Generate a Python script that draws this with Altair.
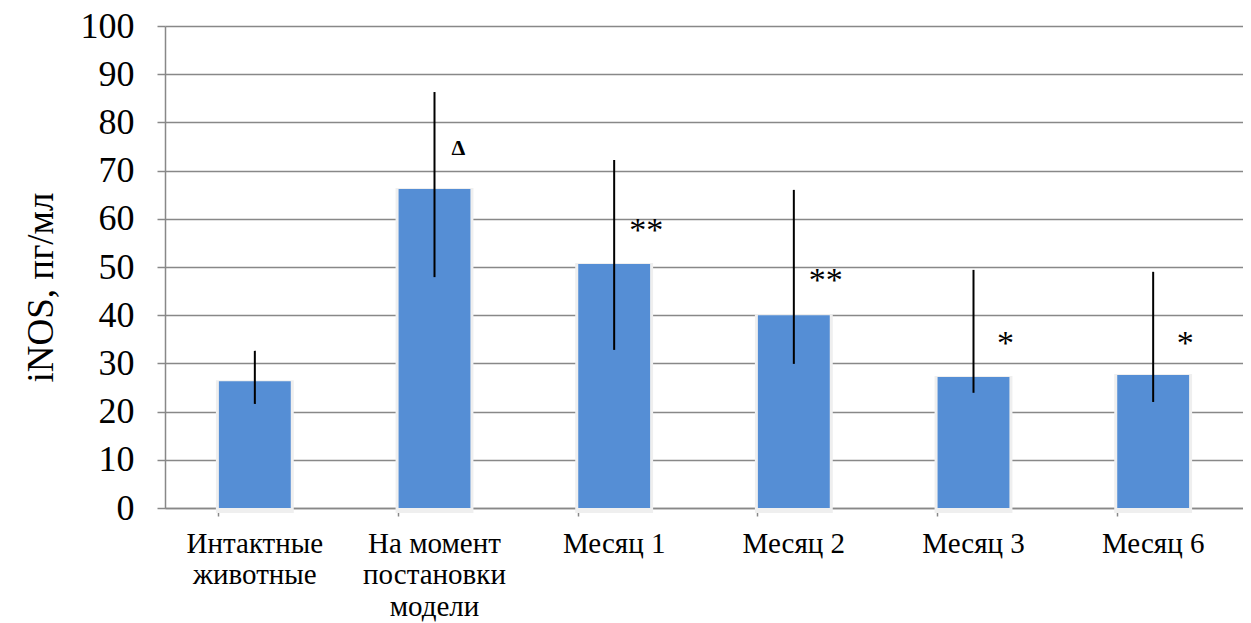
import altair as alt
import pandas as pd

categories = ["Интактные\nживотные", "На момент\nпостановки\nмодели", "Месяц 1", "Месяц 2", "Месяц 3", "Месяц 6"]
means = [26.3, 66.2, 50.6, 40.0, 27.2, 27.6]
err_low = [21.6, 47.9, 32.8, 29.9, 23.9, 22.0]
err_high = [32.6, 86.3, 72.2, 66.0, 49.4, 49.0]
marks = ["", "Δ", "**", "**", "*", "*"]
mark_y = [None, 74.7, 58.7, 48.3, 35.3, 35.3]

df = pd.DataFrame({
    "cat": categories, "mean": means, "lo": err_low, "hi": err_high,
    "mark": marks, "my": mark_y,
})

FONT = "Liberation Serif"

x = alt.X("cat:N", sort=categories, title=None,
          scale=alt.Scale(paddingInner=0.6, paddingOuter=0.3),
          axis=alt.Axis(labelExpr="split(datum.value, '\\n')", labelAngle=0,
                        labelFont=FONT, labelFontSize=29, labelColor="black",
                        labelLineHeight=31.5, labelPadding=13, labelBaseline="top",
                        bandPosition=0, tickColor="#888888", tickSize=8, tickWidth=1.5,
                        domainColor="#888888", domainWidth=1.5, grid=False))
y_scale = alt.Scale(domain=[0, 100], nice=False)
y = alt.Y("mean:Q", scale=y_scale, title="iNOS, пг/мл",
          axis=alt.Axis(values=list(range(0, 101, 10)), labelFont=FONT, labelFontSize=36,
                        labelColor="black", labelPadding=23, tickSize=8, tickColor="#888888",
                        tickWidth=1.5, domainColor="#888888", domainWidth=1.5,
                        gridColor="#888888", gridWidth=1.5,
                        titleFont=FONT, titleFontSize=37, titleFontWeight="normal",
                        titleColor="black", titlePadding=20, titleY=261))

shadow = alt.Chart(df).mark_bar(color="#EFEFEF", stroke="#EFEFEF", strokeWidth=6, yOffset=2).encode(
    x=x, y=y,
)

bars = alt.Chart(df).mark_bar(color="#558ED5").encode(x=x, y=y)

errs = alt.Chart(df).mark_rule(color="black", strokeWidth=2).encode(
    x=alt.X("cat:N", sort=categories),
    y=alt.Y("lo:Q", scale=y_scale),
    y2="hi:Q",
)

stars = alt.Chart(df[df["mark"].str.startswith("*")]).mark_text(
    font=FONT, fontSize=34, dx=32, dy=6, color="black", baseline="middle").encode(
    x=alt.X("cat:N", sort=categories),
    y=alt.Y("my:Q", scale=y_scale),
    text="mark:N",
)

delta = alt.Chart(df[df["mark"] == "Δ"]).mark_text(
    font=FONT, fontSize=22, fontWeight="bold", dx=24, color="black", baseline="middle").encode(
    x=alt.X("cat:N", sort=categories),
    y=alt.Y("my:Q", scale=y_scale),
    text="mark:N",
)

chart = alt.layer(shadow, bars, errs, stars, delta).properties(
    width=1078, height=482,
    autosize=alt.AutoSizeParams(type="none"),
    padding={"left": 157, "top": 18, "right": 0, "bottom": 114},
).configure_view(stroke=None)

chart.save("out.html", embed_options={"renderer": "svg", "actions": False})
